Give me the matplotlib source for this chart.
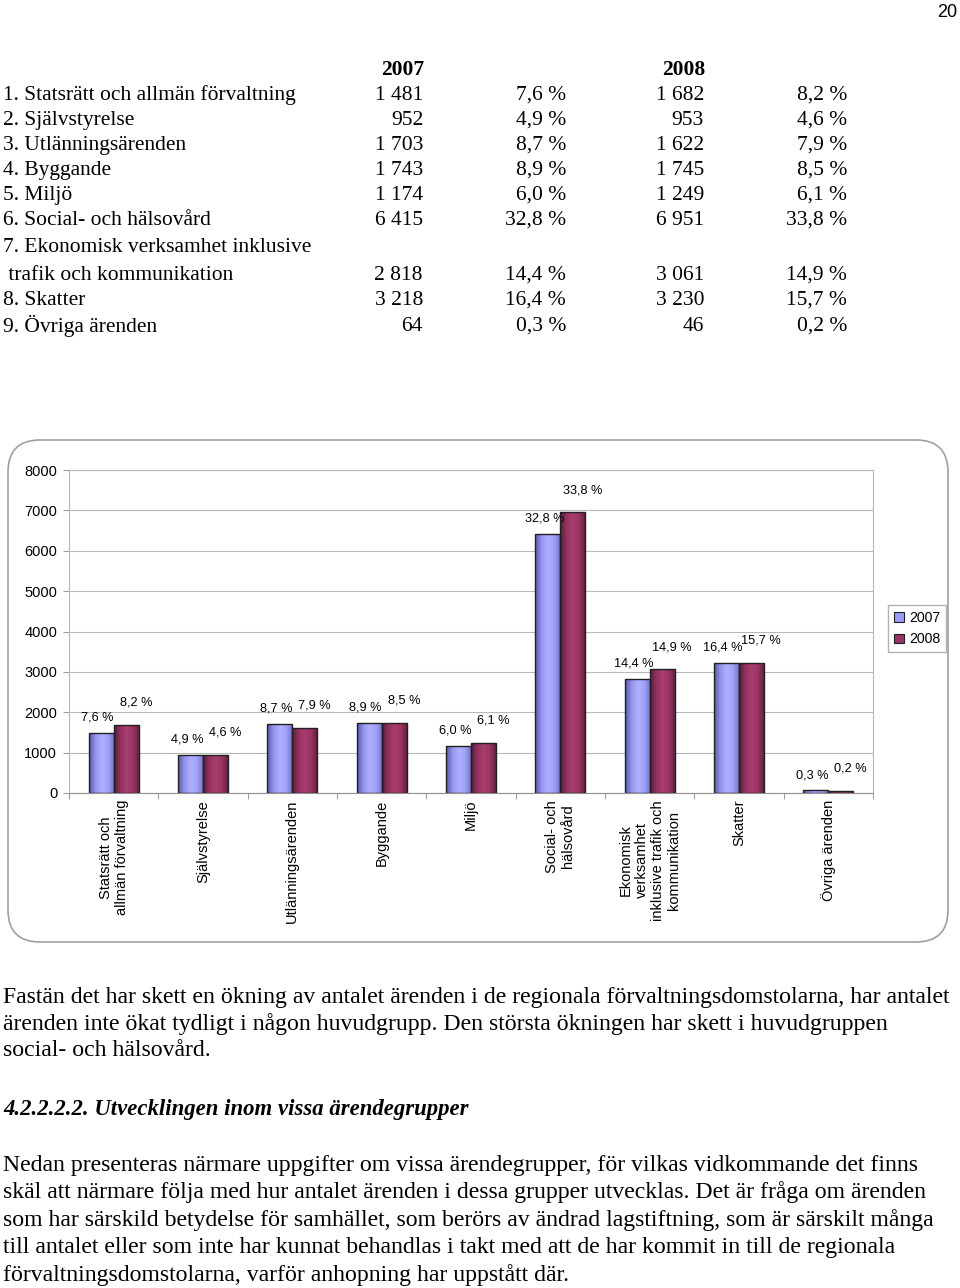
import matplotlib.pyplot as plt
import numpy as np
from matplotlib.patches import FancyBboxPatch, Patch
from matplotlib.colors import LinearSegmentedColormap

#--- Data
table_rows = ['1. Statsrätt och allmän förvaltning', '2. Självstyrelse', '3. Utlänningsärenden',
              '4. Byggande', '5. Miljö', '6. Social- och hälsovård',
              '7. Ekonomisk verksamhet inklusive\n trafik och kommunikation', '8. Skatter', '9. Övriga ärenden']
categories = ['Statsrätt och\nallmän förvaltning', 'Självstyrelse', 'Utlänningsärenden', 'Byggande', 'Miljö',
              'Social- och\nhälsovård', 'Ekonomisk\nverksamhet\ninklusive trafik och\nkommunikation',
              'Skatter', 'Övriga ärenden']
years = ['2007', '2008']
counts_2007 = [1481, 952, 1703, 1743, 1174, 6415, 2818, 3218, 64]
counts_2008 = [1682, 953, 1622, 1745, 1249, 6951, 3061, 3230, 46]
share_2007 = ['7,6 %', '4,9 %', '8,7 %', '8,9 %', '6,0 %', '32,8 %', '14,4 %', '16,4 %', '0,3 %']
share_2008 = ['8,2 %', '4,6 %', '7,9 %', '8,5 %', '6,1 %', '33,8 %', '14,9 %', '15,7 %', '0,2 %']
y_ticks = [0, 1000, 2000, 3000, 4000, 5000, 6000, 7000, 8000]

para1 = ['Fastän det har skett en ökning av antalet ärenden i de regionala förvaltningsdomstolarna, har antalet',
         'ärenden inte ökat tydligt i någon huvudgrupp. Den största ökningen har skett i huvudgruppen',
         'social- och hälsovård.']
heading = '4.2.2.2.2. Utvecklingen inom vissa ärendegrupper'
para2 = ['Nedan presenteras närmare uppgifter om vissa ärendegrupper, för vilkas vidkommande det finns',
         'skäl att närmare följa med hur antalet ärenden i dessa grupper utvecklas. Det är fråga om ärenden',
         'som har särskild betydelse för samhället, som berörs av ändrad lagstiftning, som är särskilt många',
         'till antalet eller som inte har kunnat behandlas i takt med att de har kommit in till de regionala',
         'förvaltningsdomstolarna, varför anhopning har uppstått där.']

def fmt(n):
	s = str(n)
	if len(s) > 3:
		s = s[:-3] + ' ' + s[-3:]
	return s

def main():
	fig = plt.figure(figsize = (9.6, 12.88), dpi = 100)

	#--- Page layer in pixel coordinates
	bg = fig.add_axes([0, 0, 1, 1], zorder = 0)
	bg.set_xlim(0, 960)
	bg.set_ylim(1288, 0)
	bg.axis('off')

	serif = 'Liberation Serif'
	fs = 15.5
	fp = 17.1
	bg.text(957, 12, '20', ha = 'right', va = 'center', fontsize = 13, family = 'Liberation Sans')

	#--- Table
	bg.text(424, 70, years[0], ha = 'right', va = 'center', fontsize = fs, family = serif, weight = 'bold')
	bg.text(705, 70, years[1], ha = 'right', va = 'center', fontsize = fs, family = serif, weight = 'bold')
	row_y = [95, 120, 145, 170, 195, 220, 275, 300, 326]
	for i, name in enumerate(table_rows):
		y = row_y[i]
		if '\n' in name:
			a, b = name.split('\n')
			bg.text(3, 247, a, ha = 'left', va = 'center', fontsize = fs, family = serif)
			bg.text(3, y, b, ha = 'left', va = 'center', fontsize = fs, family = serif)
		else:
			bg.text(3, y, name, ha = 'left', va = 'center', fontsize = fs, family = serif)
		bg.text(423, y, fmt(counts_2007[i]), ha = 'right', va = 'center', fontsize = fs, family = serif)
		bg.text(566, y, share_2007[i], ha = 'right', va = 'center', fontsize = fs, family = serif)
		bg.text(704, y, fmt(counts_2008[i]), ha = 'right', va = 'center', fontsize = fs, family = serif)
		bg.text(847, y, share_2008[i], ha = 'right', va = 'center', fontsize = fs, family = serif)

	#--- Chart frame
	frame = FancyBboxPatch((8, 440), 940, 502, boxstyle = 'round,pad=0,rounding_size=32',
	                       facecolor = 'white', edgecolor = '#a0a0a0', linewidth = 1.2)
	bg.add_patch(frame)

	#--- Text below
	for i, line in enumerate(para1):
		bg.text(3, 997 + 27 * i, line, ha = 'left', va = 'center', fontsize = fp, family = serif)
	bg.text(3, 1110, heading, ha = 'left', va = 'center', fontsize = 16.4, family = serif,
	        weight = 'bold', style = 'italic')
	for i, line in enumerate(para2):
		bg.text(3, 1165 + 27.5 * i, line, ha = 'left', va = 'center', fontsize = fp, family = serif)

	#--- Bar chart
	ax = fig.add_axes([69 / 960, 1 - 793 / 1288, (873 - 69) / 960, (793 - 470) / 1288], zorder = 1)
	ax.set_facecolor('none')
	x = np.arange(len(categories))
	w = 0.28
	cols = ['#9999ff', '#993366']
	cmaps = [LinearSegmentedColormap.from_list('c07', ['#5858a8', '#9494ee', '#b0b0ff', '#a0a0fa', '#7070c0']),
	         LinearSegmentedColormap.from_list('c08', ['#5a1c3c', '#95325f', '#a83f70', '#98345f', '#5e1d3d'])]
	grad = np.linspace(0, 1, 64)[np.newaxis, :]
	series = [counts_2007, counts_2008]
	shares = [share_2007, share_2008]
	offsets = [(-2.5, 11), (7, 16)]
	for k in range(2):
		bars = ax.bar(x + (k - 0.5) * w, series[k], w, color = cols[k], edgecolor = '#202020',
		              linewidth = 1.0, zorder = 3)
		for rect in bars:
			x0, y0 = rect.get_xy()
			im = ax.imshow(grad, extent = [x0, x0 + rect.get_width(), y0, y0 + rect.get_height()],
			               cmap = cmaps[k], aspect = 'auto', zorder = 2, interpolation = 'bilinear')
			im.set_clip_path(rect)
			rect.set_facecolor('none')
		for rect, lab in zip(bars, shares[k]):
			ax.annotate(lab, (rect.get_x() + rect.get_width() / 2, rect.get_height()),
			            xytext = offsets[k], textcoords = 'offset points', ha = 'center', va = 'center',
			            fontsize = 9.2, family = 'Liberation Sans')

	ax.set_xlim(-0.5, len(categories) - 0.5)
	ax.set_ylim(0, 8000)
	ax.set_yticks(y_ticks)
	ax.set_yticklabels([str(t) for t in y_ticks], fontsize = 10.5, family = 'Liberation Sans')
	ax.tick_params(axis = 'y', length = 4.5, width = 0.8, color = '#a0a0a0', pad = 4)
	ax.yaxis.grid(True, color = '#b8b8b8', linewidth = 0.8)
	ax.set_axisbelow(True)
	ax.set_xticks(x)
	ax.set_xticklabels(categories, rotation = 90, fontsize = 10.5, family = 'Liberation Sans',
	                   ma = 'center', va = 'top')
	ax.tick_params(axis = 'x', length = 0, pad = 5)
	ax.set_xticks(np.arange(-0.5, len(categories)), minor = True)
	ax.tick_params(axis = 'x', which = 'minor', length = 4.5, width = 0.8, color = '#a0a0a0')
	for s in ax.spines.values():
		s.set_color('#b8b8b8')
		s.set_linewidth(0.8)
	ax.spines['bottom'].set_color('#909090')

	handles = [Patch(facecolor = cols[k], edgecolor = '#202020', linewidth = 0.8, label = years[k]) for k in range(2)]
	fig.legend(handles = handles, loc = 'upper left', bbox_to_anchor = (888 / 960, 1 - 605 / 1288),
	           frameon = True, fancybox = False, edgecolor = '#a0a0a0',
	           handlelength = 0.7, handleheight = 0.7, handletextpad = 0.4, borderpad = 0.4,
	           labelspacing = 0.55, borderaxespad = 0, prop = {'family': 'Liberation Sans', 'size': 10.2})

	fig.savefig('out.png', dpi = 100)
	plt.close()

if __name__ == "__main__":
	main()
